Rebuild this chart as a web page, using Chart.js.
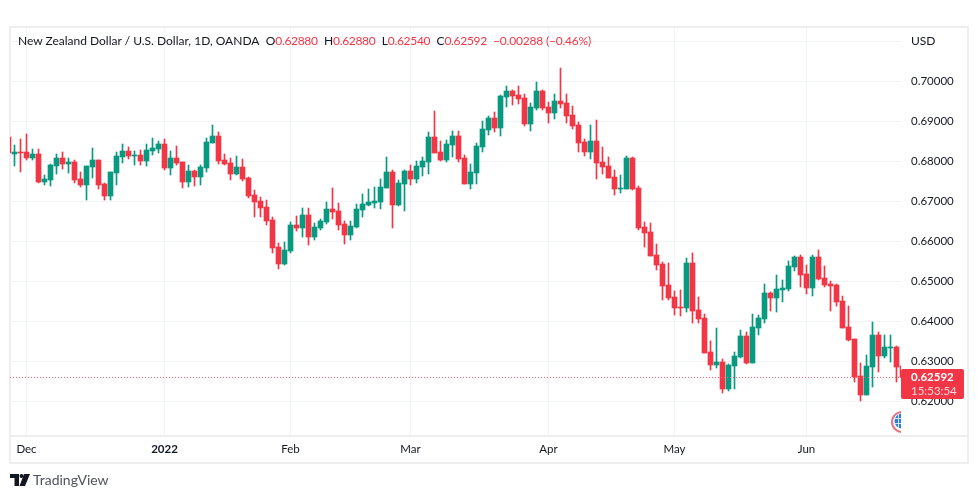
<!DOCTYPE html>
<html lang="en">
<head>
  <meta charset="UTF-8" />
  <title>NZD/USD daily</title>
  <style>
    html, body { margin: 0; padding: 0; background: #fff; }
    .wrap { position: relative; width: 979px; height: 498px; overflow: hidden; font-family: "Lato", sans-serif; }
    canvas { position: absolute; left: 0; top: 0; }
    .legend { position: absolute; left: 18px; top: 33px; font-size: 12px; line-height: 16px; color: #131722; white-space: nowrap; }
    .legend b { font-weight: normal; color: #f23645; letter-spacing: -.33px; }
    .legend span { margin-left: 6.3px; }
    .legend .chg b { letter-spacing: -.2px; }
    .usd { position: absolute; left: 911px; top: 33px; font-size: 12px; line-height: 16px; color: #131722; }
    .brand { position: absolute; left: 33px; top: 472px; font-size: 14px; line-height: 16px; color: #50535e; }
    .logo { position: absolute; left: 10px; top: 474px; }
  </style>
</head>
<body>
  <div class="wrap">
    <canvas id="chart" width="979" height="498"></canvas>
    <div class="legend">New Zealand Dollar / U.S. Dollar, 1D, OANDA<span>O<b>0.62880</b></span><span>H<b>0.62880</b></span><span>L<b>0.62540</b></span><span>C<b>0.62592</b></span><span class="chg"><b>&minus;0.00288 (&minus;0.46%)</b></span></div>
    <div class="usd">USD</div>
    <svg class="logo" width="20" height="12" viewBox="0 0 20 12">
      <path d="M0 0h9v12H4.5V4H0z" fill="#131722" />
      <circle cx="11.5" cy="2" r="2" fill="#131722" />
      <path d="M14 0h6l-5 12H9.5z" fill="#131722" />
    </svg>
    <div class="brand">TradingView</div>
  </div>

  <script src="https://cdn.jsdelivr.net/npm/chart.js"></script>
  <script>
    // candles by trading day, oldest first
    const opens = [
      .686, .68175, .68225, .68225, .68075, .68175, .67475, .67525, .67875, .68075,
      .67925, .67975, .6755, .674, .6785, .68025, .67425, .67125, .677, .681,
      .6825, .68125, .6815, .68, .6825, .683, .68425, .67825, .68075, .67975,
      .67475, .6775, .676, .67825, .6845, .68625, .68025, .6795, .67675, .6785,
      .67575, .6715, .67, .6685, .66525, .6585, .65425, .6575, .664, .66325,
      .6665, .661, .66325, .66475, .668, .6675, .66425, .6615, .6635, .66775,
      .669, .6695, .66975, .67325, .67725, .669, .67425, .6775, .6755, .6785,
      .67975, .686, .68225, .68025, .684, .68625, .68075, .67425, .677, .6835,
      .68775, .69075, .68825, .696, .6975, .6965, .69575, .68925, .69325, .6975,
      .6935, .692, .695, .6945, .6915, .689, .68475, .68225, .685, .67975,
      .67875, .676, .673, .673, .68075, .67325, .6635, .66225, .6565, .65425,
      .649, .646, .6435, .64325, .6545, .64275, .64075, .63225, .629, .62975,
      .623, .62875, .631, .63625, .6295, .63825, .6405, .647, .64575, .64775,
      .648, .6535, .656, .65175, .64825, .656, .65075, .64925, .649, .645,
      .6385, .6355, .62625, .6215, .6285, .6365, .63125, .63325, .6335, .6288
    ];
    const highs = [
      .686, .684, .6855, .68675, .683, .683, .6765, .67925, .68175, .68225,
      .68075, .68025, .67725, .67875, .68325, .68025, .6745, .67725, .68225, .68425,
      .6835, .6825, .68275, .68425, .68575, .685, .6855, .6825, .68375, .67975,
      .679, .67775, .679, .68575, .689, .68725, .68175, .68075, .68125, .6805,
      .676, .67275, .671, .67025, .666, .6595, .65975, .66475, .66625, .66825,
      .66825, .6645, .6655, .66975, .67325, .6695, .665, .665, .66925, .67175,
      .673, .6735, .6755, .681, .67775, .67525, .67775, .679, .68, .681,
      .68725, .6925, .685, .68525, .6875, .6875, .6815, .67925, .6845, .69,
      .69125, .69225, .6965, .69875, .69775, .69875, .69675, .6945, .69975, .69775,
      .69475, .69675, .70325, .69675, .69375, .68975, .6855, .689, .69025, .6835,
      .681, .67775, .6765, .68125, .681, .67375, .66475, .6645, .65925, .65475,
      .6545, .6475, .64775, .65575, .657, .646, .64175, .635, .63825, .6305,
      .62925, .63225, .63775, .63725, .64175, .6415, .64925, .64725, .6515, .65025,
      .655, .65625, .6565, .654, .6565, .65775, .65375, .65, .64925, .64625,
      .64375, .6355, .6295, .6315, .63975, .63725, .6365, .6365, .63375, .6288
    ];
    const lows = [
      .682, .67875, .67725, .68025, .68025, .6745, .674, .67375, .67675, .678,
      .677, .6745, .6735, .67025, .67575, .673, .67025, .67025, .674, .6795,
      .6805, .679, .679, .67875, .6815, .682, .67775, .6765, .679, .67325,
      .6735, .67375, .674, .67725, .6845, .67925, .679, .67525, .6765, .675,
      .67075, .666, .666, .664, .657, .653, .654, .657, .6625, .661,
      .659, .66025, .66275, .66425, .6655, .66275, .65925, .66025, .66325, .666,
      .66875, .66825, .668, .67325, .66325, .66875, .6675, .674, .6745, .67625,
      .67675, .682, .68, .67975, .681, .67975, .67425, .673, .67425, .68225,
      .6865, .68725, .68625, .6935, .694, .69425, .68875, .6875, .69275, .69275,
      .6895, .6905, .69325, .6895, .688, .68225, .68125, .6805, .6755, .67675,
      .67575, .6715, .672, .673, .67275, .66275, .6585, .65625, .65275, .64525,
      .64525, .6415, .64125, .64225, .6395, .6395, .632, .62775, .62825, .622,
      .6225, .623, .63075, .62925, .6295, .6365, .6395, .6425, .64225, .64475,
      .6475, .6525, .6485, .64675, .64625, .65025, .6485, .6425, .64375, .63825,
      .635, .62475, .62, .6215, .6235, .62725, .63075, .62975, .62475, .6254
    ];
    const closes = [
      .682, .68225, .682, .68075, .68175, .67475, .6755, .679, .68075, .67925,
      .67975, .67525, .674, .67875, .68025, .674, .67125, .67725, .68125, .6825,
      .68125, .6815, .68, .68275, .68325, .68425, .67825, .68075, .6795, .67475,
      .6775, .676, .6785, .68475, .68625, .68, .67925, .67675, .6785, .6755,
      .67125, .66975, .66825, .665, .65825, .65425, .65775, .664, .66325, .6665,
      .661, .6635, .665, .668, .66725, .664, .6615, .66375, .668, .66925,
      .66975, .67, .6735, .67725, .669, .6745, .6775, .6755, .67875, .68,
      .686, .682, .68025, .68425, .68625, .6805, .67425, .67725, .68375, .688,
      .69075, .68825, .69625, .6975, .69625, .6955, .68925, .6935, .6975, .69325,
      .692, .695, .69425, .69125, .68875, .6845, .68225, .685, .6795, .6785,
      .67575, .673, .67325, .68075, .673, .66325, .662, .65625, .654, .64875,
      .64575, .64325, .64325, .6545, .6425, .6405, .632, .629, .62975, .623,
      .629, .63125, .63625, .6295, .6385, .64075, .647, .64575, .648, .64825,
      .65375, .656, .6515, .64825, .656, .6505, .649, .64875, .64475, .63825,
      .63525, .626, .6215, .62875, .6365, .63125, .6335, .6335, .6285, .62592
    ];

    const priceTicks = [.62, .63, .64, .65, .66, .67, .68, .69, .70, .71];
    const monthTicks = [3, 26, 47, 67, 90, 111, 133];
    const monthLabels = ['Dec', '2022', 'Feb', 'Mar', 'Apr', 'May', 'Jun'];
    const lastClose = .62592;
    const countdown = '15:53:54';

    const UP = '#089981', DOWN = '#f23645', GRID = '#f0f3fa', FRAME = '#eeeeee';
    const FONT = 'Lato, sans-serif';
    const colors = closes.map((c, i) => c >= opens[i] ? UP : DOWN);

    // frame, last price line and label, the little earnings flag
    const tvExtras = {
      id: 'tvExtras',
      beforeDraw(chart) {
        const c = chart.ctx, a = chart.chartArea;
        c.save();
        c.fillStyle = FRAME;
        c.fillRect(9, 26, 960, 2);
        c.fillRect(9, 462, 960, 2);
        c.fillRect(9, 26, 2, 438);
        c.fillRect(967, 26, 2, 438);
        c.fillRect(9, a.bottom, 960, 2);
        c.restore();
      },
      afterDatasetsDraw(chart) {
        const c = chart.ctx, a = chart.chartArea;
        const y = Math.round(chart.scales.y.getPixelForValue(lastClose)) + .5;
        c.save();
        c.strokeStyle = '#f5606e';
        c.lineWidth = 1;
        c.setLineDash([1, 2]);
        c.beginPath();
        c.moveTo(a.left, y);
        c.lineTo(a.right, y);
        c.stroke();
        c.setLineDash([]);

        // flag, cut off by the price axis
        c.beginPath();
        c.rect(a.left, a.top, a.right - a.left, a.bottom - a.top);
        c.clip();
        c.fillStyle = '#fff';
        c.strokeStyle = '#e8747f';
        c.lineWidth = 2;
        c.beginPath();
        c.arc(902, 422, 10, 0, Math.PI * 2);
        c.fill();
        c.stroke();
        c.fillStyle = '#2f7fd6';
        c.beginPath();
        c.arc(902, 421, 7.5, 0, Math.PI * 2);
        c.fill();
        c.strokeStyle = '#cfe3f7';
        c.lineWidth = 1;
        c.beginPath();
        c.moveTo(894, 418.5);
        c.lineTo(901, 418.5);
        c.moveTo(894, 423.5);
        c.lineTo(901, 423.5);
        c.moveTo(898.5, 414);
        c.lineTo(898.5, 428);
        c.stroke();
        c.restore();

        c.save();
        c.fillStyle = DOWN;
        c.beginPath();
        c.roundRect(901, y - 8.5, 63, 30, 2);
        c.fill();
        c.fillStyle = '#fff';
        c.textBaseline = 'middle';
        c.textAlign = 'left';
        c.font = 'bold 11.5px ' + FONT;
        c.fillText(lastClose.toFixed(5), 911, y - 0.5);
        c.globalAlpha = .8;
        c.font = '11.5px ' + FONT;
        c.fillText(countdown, 911, y + 14);
        c.restore();
      }
    };

    new Chart(document.getElementById('chart'), {
      type: 'bar',
      data: {
        datasets: [
          {
            label: 'wick',
            data: highs.map((h, i) => ({ x: i, y: [lows[i], h] })),
            backgroundColor: colors,
            barThickness: 1,
            grouped: false,
            order: 2
          },
          {
            label: 'body',
            data: opens.map((o, i) => ({ x: i, y: [o, closes[i]] })),
            backgroundColor: colors,
            barThickness: 5,
            grouped: false,
            order: 1
          }
        ]
      },
      options: {
        responsive: false,
        animation: false,
        layout: { padding: { left: 10, top: 28 } },
        plugins: { legend: { display: false }, tooltip: { enabled: false } },
        scales: {
          x: {
            type: 'linear',
            offset: false,
            min: .25,
            max: 148.75,
            afterBuildTicks: s => { s.ticks = monthTicks.map(v => ({ value: v })); },
            afterFit: s => { s.height = 63; },
            grid: { color: GRID, drawTicks: false, offset: false },
            border: { display: false },
            ticks: {
              padding: 7,
              maxRotation: 0,
              autoSkip: false,
              color: '#131722',
              font: ctx => ({ family: FONT, size: 11.5, weight: ctx.tick && ctx.tick.value === 26 ? 'bold' : 'normal' }),
              callback: v => monthLabels[monthTicks.indexOf(v)]
            }
          },
          y: {
            position: 'right',
            min: .6115,
            max: .71325,
            afterBuildTicks: s => { s.ticks = priceTicks.map(v => ({ value: v })); },
            afterFit: s => { s.width = 78; },
            grid: { color: GRID, drawTicks: false },
            border: { display: false },
            ticks: {
              padding: 10,
              crossAlign: 'near',
              autoSkip: false,
              color: '#131722',
              font: { family: FONT, size: 11.5 },
              callback: v => v > .705 ? '' : v.toFixed(5)
            }
          }
        }
      },
      plugins: [tvExtras]
    });
  </script>
</body>
</html>
